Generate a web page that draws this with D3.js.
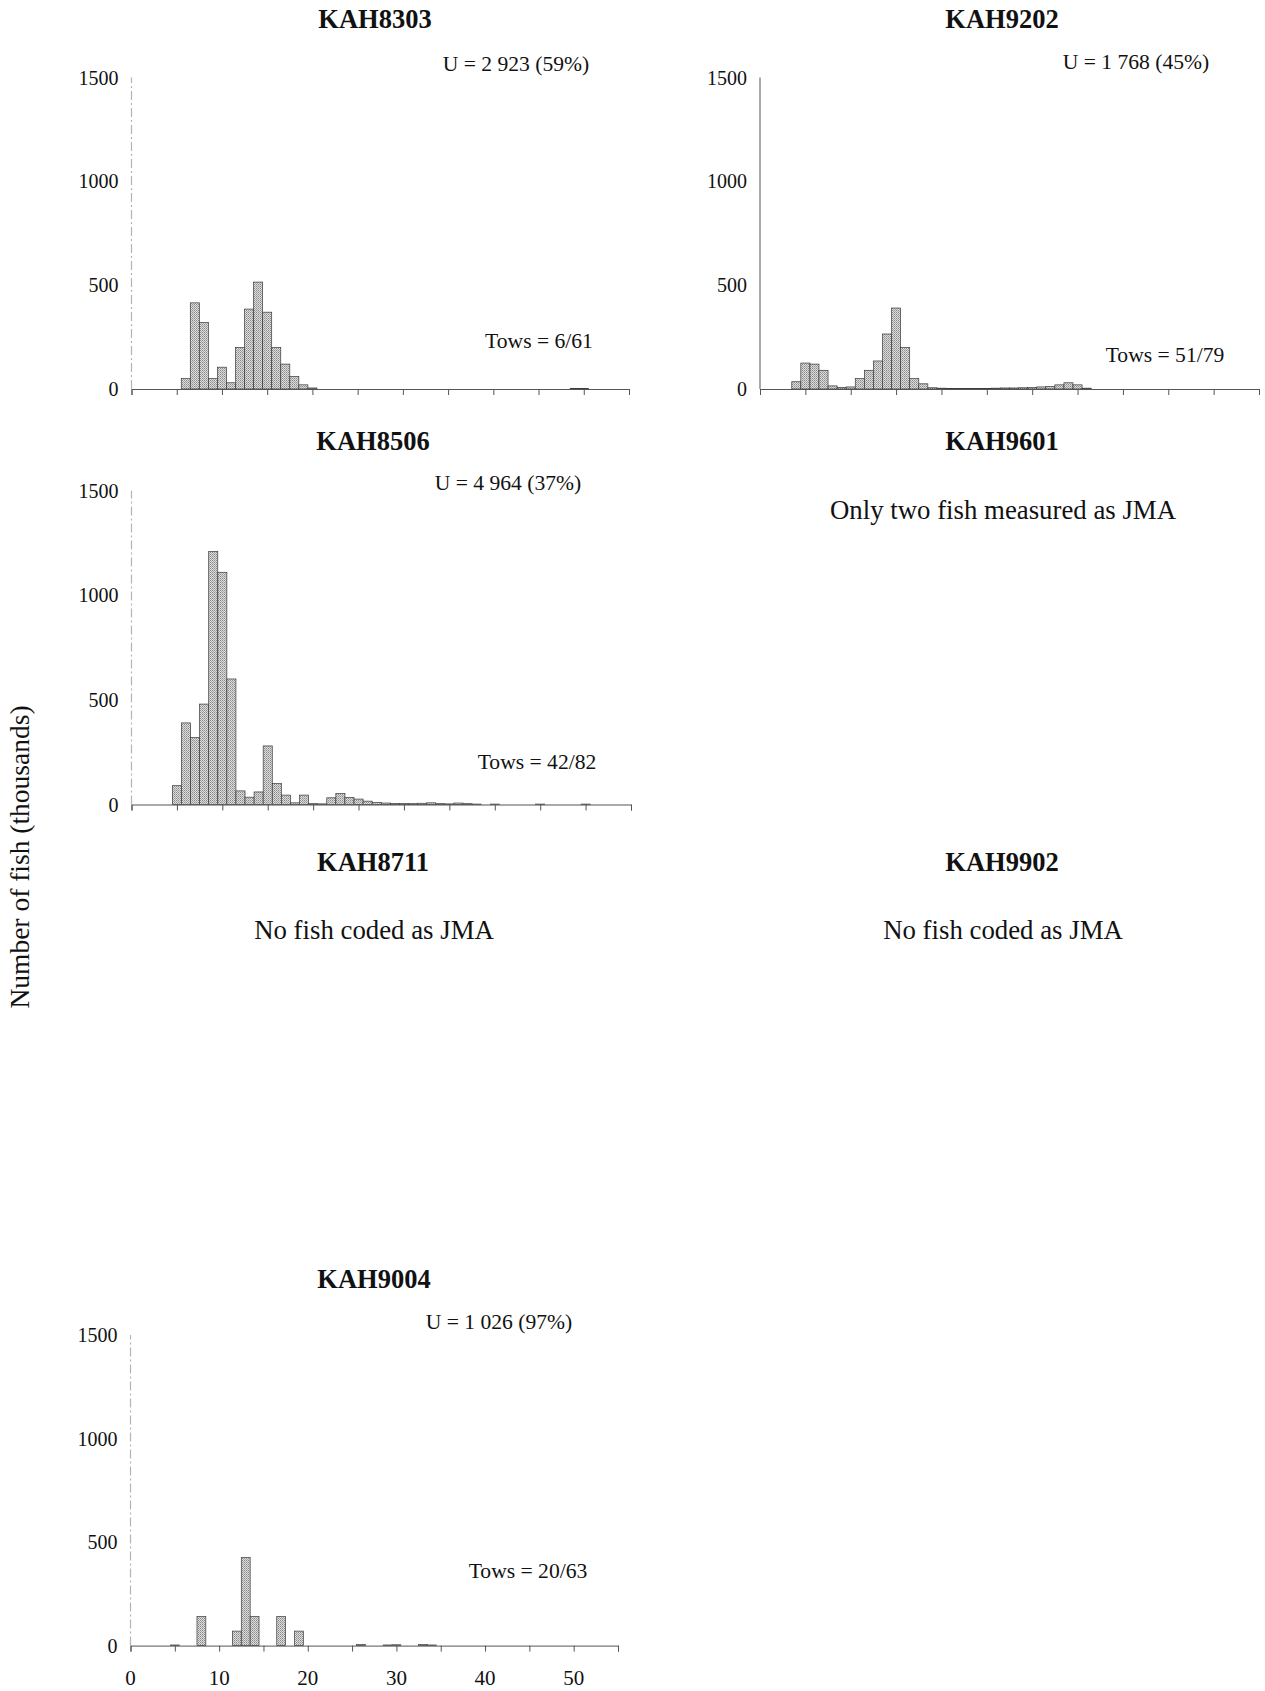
<!DOCTYPE html>
<html>
<head>
<meta charset="utf-8">
<script src="https://cdn.jsdelivr.net/npm/d3@7"></script>
<style>
  body { margin: 0; background: #fff; }
  text { font-family: "Liberation Serif", "Times New Roman", serif; fill: #111; }
</style>
</head>
<body>
<div id="chart"></div>
<script>
// Length classes (cm) and numbers of fish (thousands).
var len8303 = [6, 7, 8, 9, 10, 11, 12, 13, 14, 15, 16, 17, 18, 19, 20, 49, 50];
var num8303 = [50, 415, 320, 50, 105, 30, 200, 385, 515, 370, 200, 120, 60, 20, 5, 3, 3];

var len9202 = [4, 5, 6, 7, 8, 9, 10, 11, 12, 13, 14, 15, 16, 17, 18, 19, 20, 21, 22, 23, 24, 25, 26, 27, 28, 29, 30, 31, 32, 33, 34, 35, 36];
var num9202 = [35, 125, 120, 90, 15, 8, 10, 50, 90, 135, 265, 390, 200, 50, 25, 6, 4, 3, 3, 3, 3, 2, 4, 5, 5, 6, 8, 10, 12, 20, 30, 20, 4];

var len8506 = [5, 6, 7, 8, 9, 10, 11, 12, 13, 14, 15, 16, 17, 18, 19, 20, 21, 22, 23, 24, 25, 26, 27, 28, 29, 30, 31, 32, 33, 34, 35, 36, 37, 38, 40, 45, 50];
var num8506 = [90, 390, 320, 480, 1210, 1110, 600, 65, 35, 60, 280, 100, 45, 8, 45, 4, 3, 32, 52, 34, 26, 16, 10, 7, 5, 5, 4, 6, 8, 4, 3, 7, 4, 2, 2, 2, 2];

var len9004 = [5, 8, 12, 13, 14, 17, 19, 26, 29, 30, 33, 34];
var num9004 = [3, 140, 70, 425, 140, 140, 70, 5, 3, 4, 5, 3];

// Axis ticks.
var yTicks = [0, 500, 1000, 1500];
var xTicks = [0, 5, 10, 15, 20, 25, 30, 35, 40, 45, 50, 55];
var xLabels = [0, 10, 20, 30, 40, 50];

// Panel texts.
var titles = ["KAH8303", "KAH9202", "KAH8506", "KAH9601", "KAH8711", "KAH9902", "KAH9004"];
var uTexts = ["U = 2 923 (59%)", "U = 1 768 (45%)", "U = 4 964 (37%)", "U = 1 026 (97%)"];
var towTexts = ["Tows = 6/61", "Tows = 51/79", "Tows = 42/82", "Tows = 20/63"];
var notes = ["Only two fish measured as JMA", "No fish coded as JMA", "No fish coded as JMA"];

var svg = d3.select("#chart")
    .append("svg")
    .attr("width", 1265)
    .attr("height", 1691);

// Stipple fill, like the scanned bars.
var defs = svg.append("defs");
var pat = defs.append("pattern")
    .attr("id", "stipple")
    .attr("width", 2).attr("height", 2)
    .attr("patternUnits", "userSpaceOnUse");
pat.append("rect").attr("width", 2).attr("height", 2).attr("fill", "#dcdcdc");
pat.append("rect").attr("width", 1).attr("height", 1).attr("fill", "#8a8a8a");
pat.append("rect").attr("x", 1).attr("y", 1).attr("width", 1).attr("height", 1).attr("fill", "#a8a8a8");

// Draw one histogram panel.
function drawPanel(p, lengths, counts) {
    var x = d3.scaleLinear().domain([0, 55]).range([p.x0, p.x1]);
    var y = d3.scaleLinear().domain([0, 1500]).range([p.y0, p.y1]);
    var g = svg.append("g");

    // y axis
    g.append("line")
        .attr("x1", p.x0).attr("x2", p.x0)
        .attr("y1", y(0)).attr("y2", y(1500))
        .attr("stroke", p.solidY ? "#8c8c8c" : "#b4b4b4")
        .attr("stroke-width", p.solidY ? 1.5 : 1.2)
        .attr("stroke-dasharray", p.solidY ? null : "9 3 2 3");

    g.selectAll(".ylab")
        .data(yTicks)
        .enter().append("text")
        .attr("x", p.x0 - 13)
        .attr("y", function(d) { return y(d); })
        .attr("dy", "0.35em")
        .attr("text-anchor", "end")
        .style("font-size", "20px")
        .text(function(d) { return d; });

    // bars
    g.selectAll(".bar")
        .data(lengths.map(function(l, i) { return {len: l, n: counts[i]}; }))
        .enter().append("rect")
        .attr("x", function(d) { return x(d.len - 0.5); })
        .attr("width", function(d) { return x(d.len + 0.5) - x(d.len - 0.5); })
        .attr("y", function(d) { return y(d.n); })
        .attr("height", function(d) { return y(0) - y(d.n); })
        .attr("fill", "url(#stipple)")
        .attr("stroke", "#3a3a3a")
        .attr("stroke-width", 0.7);

    // x axis
    var ax = d3.axisBottom(x)
        .tickValues(xTicks)
        .tickSize(6)
        .tickFormat("");
    var axg = g.append("g")
        .attr("transform", "translate(0," + y(0) + ")")
        .call(ax);
    axg.select(".domain").attr("stroke", "#555").attr("stroke-width", 1);
    axg.selectAll(".tick line").attr("stroke", "#555");

    if (p.labels) {
        g.selectAll(".xlab")
            .data(xLabels)
            .enter().append("text")
            .attr("x", function(d) { return x(d); })
            .attr("y", y(0) + 39)
            .attr("text-anchor", "middle")
            .style("font-size", "21px")
            .text(function(d) { return d; });
    }

    g.append("text")
        .attr("x", p.uX).attr("y", p.uY).attr("dy", "0.35em")
        .attr("text-anchor", "middle")
        .style("font-size", "21.6px")
        .text(p.u);

    g.append("text")
        .attr("x", p.tX).attr("y", p.tY).attr("dy", "0.35em")
        .attr("text-anchor", "middle")
        .style("font-size", "21.6px")
        .text(p.tows);
}

function title(t, cx, cy) {
    svg.append("text")
        .attr("x", cx).attr("y", cy).attr("dy", "0.35em")
        .attr("text-anchor", "middle")
        .style("font-size", "26.5px")
        .style("font-weight", "bold")
        .text(t);
}

function note(t, cx, cy) {
    svg.append("text")
        .attr("x", cx).attr("y", cy).attr("dy", "0.35em")
        .attr("text-anchor", "middle")
        .style("font-size", "26.8px")
        .text(t);
}

// Panels with data.
drawPanel({x0: 131.5, x1: 629, y0: 389, y1: 77.6, u: uTexts[0], uX: 516, uY: 63, tows: towTexts[0], tX: 539, tY: 340},
    len8303, num8303);
drawPanel({x0: 760, x1: 1259, y0: 389, y1: 77.6, solidY: true, u: uTexts[1], uX: 1136, uY: 61, tows: towTexts[1], tX: 1165, tY: 354},
    len9202, num9202);
drawPanel({x0: 131.5, x1: 631, y0: 804.5, y1: 490.7, u: uTexts[2], uX: 508, uY: 482, tows: towTexts[2], tX: 537, tY: 761},
    len8506, num8506);
drawPanel({x0: 130.5, x1: 618, y0: 1645.6, y1: 1335, labels: true, u: uTexts[3], uX: 499, uY: 1321, tows: towTexts[3], tX: 528, tY: 1570},
    len9004, num9004);

// Titles.
title(titles[0], 375, 19);
title(titles[1], 1002, 19);
title(titles[2], 373, 441);
title(titles[3], 1002, 441);
title(titles[4], 373, 862);
title(titles[5], 1002, 862);
title(titles[6], 374, 1279);

// Empty panels.
note(notes[0], 1003, 510);
note(notes[1], 374, 930);
note(notes[2], 1003, 930);

// Shared y-axis label.
svg.append("text")
    .attr("transform", "translate(19,857) rotate(-90)")
    .attr("dy", "0.35em")
    .attr("text-anchor", "middle")
    .style("font-size", "27.5px")
    .text("Number of fish (thousands)");
</script>
</body>
</html>
